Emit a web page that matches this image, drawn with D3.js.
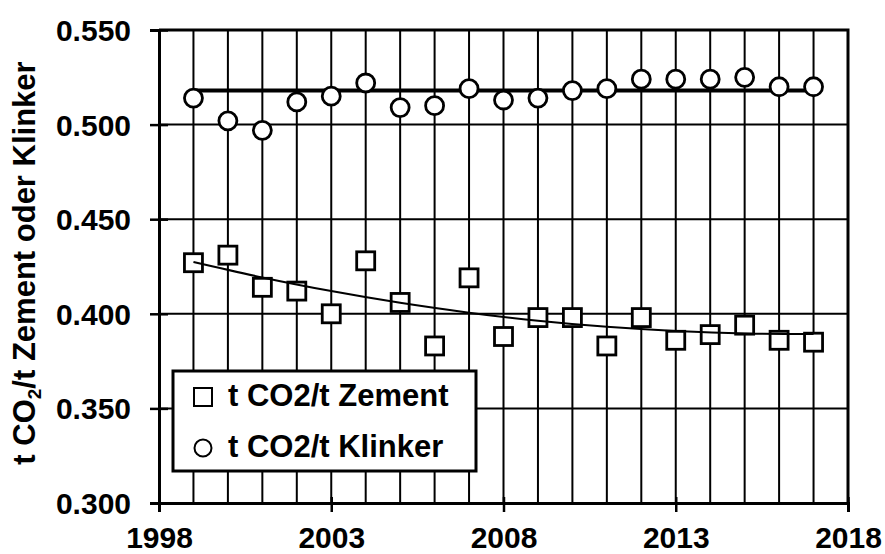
<!DOCTYPE html>
<html>
<head>
<meta charset="utf-8">
<script src="https://cdn.jsdelivr.net/npm/d3@7"></script>
<style>
  body { margin: 0; background: #fff; }
  text { font-family: "Liberation Sans", Arial, sans-serif; font-weight: bold; fill: #000; }
</style>
</head>
<body>
<script>
// values
const years = [1999, 2000, 2001, 2002, 2003, 2004, 2005, 2006, 2007, 2008,
  2009, 2010, 2011, 2012, 2013, 2014, 2015, 2016, 2017];
const zement = [0.427, 0.431, 0.414, 0.412, 0.400, 0.428, 0.406, 0.383, 0.419, 0.388,
  0.398, 0.398, 0.383, 0.398, 0.386, 0.389, 0.394, 0.386, 0.385];
const klinker = [0.514, 0.502, 0.497, 0.512, 0.515, 0.522, 0.509, 0.510, 0.519, 0.513,
  0.514, 0.518, 0.519, 0.524, 0.524, 0.524, 0.525, 0.520, 0.520];

// trend lines as drawn in the picture
const zementTrendYears = [1999, 2001, 2003, 2005, 2007, 2009, 2011, 2013, 2015, 2017];
const zementTrend = [0.4274, 0.4192, 0.4120, 0.4058, 0.4006, 0.3963, 0.3931, 0.3909, 0.3896, 0.3893];
const klinkerTrendYears = [1999, 2017];
const klinkerTrend = [0.518, 0.518];

const xTicks = [1998, 2003, 2008, 2013, 2018];
const yTicks = [0.300, 0.350, 0.400, 0.450, 0.500, 0.550];
const legendLabels = ["t CO2/t Zement", "t CO2/t Klinker"];

const width = 885, height = 554;
const margin = {left: 159, right: 37, top: 30, bottom: 51};

const svg = d3.select("body")
  .append("svg")
  .attr("width", width)
  .attr("height", height);

svg.append("rect").attr("width", width).attr("height", height).attr("fill", "#fff");

const xScale = d3.scaleLinear()
  .domain([1998, 2018])
  .range([margin.left, width - margin.right]);

const yScale = d3.scaleLinear()
  .domain([0.300, 0.550])
  .range([height - margin.bottom, margin.top]);

// grid
svg.append("g")
  .selectAll("line")
  .data(years)
  .enter()
  .append("line")
  .attr("x1", d => xScale(d)).attr("x2", d => xScale(d))
  .attr("y1", yScale(0.300)).attr("y2", yScale(0.550))
  .attr("stroke", "#000").attr("stroke-width", 2);

svg.append("g")
  .selectAll("line")
  .data(yTicks.slice(1, -1))
  .enter()
  .append("line")
  .attr("x1", xScale(1998)).attr("x2", xScale(2018))
  .attr("y1", d => yScale(d)).attr("y2", d => yScale(d))
  .attr("stroke", "#000").attr("stroke-width", 2);

// frame (top + right)
svg.append("path")
  .attr("d", "M" + xScale(1998) + "," + yScale(0.550) + "H" + xScale(2018) + "V" + yScale(0.300))
  .attr("fill", "none").attr("stroke", "#000").attr("stroke-width", 3);

// axes
const xAxis = d3.axisBottom(xScale).tickValues(xTicks).tickFormat(d3.format("d")).tickSizeOuter(0).tickSize(9);
const yAxis = d3.axisLeft(yScale).tickValues(yTicks).tickFormat(d3.format(".3f")).tickSizeOuter(0).tickSize(9);

const gx = svg.append("g")
  .attr("transform", "translate(0," + yScale(0.300) + ")")
  .call(xAxis);
gx.select(".domain").attr("stroke-width", 3);
gx.selectAll(".tick line").attr("y1", -6).attr("stroke-width", 2.5);
gx.selectAll(".tick text")
  .attr("y", 45).attr("dy", 0)
  .style("font-size", "30px");

const gy = svg.append("g")
  .attr("transform", "translate(" + xScale(1998) + ",0)")
  .call(yAxis);
gy.select(".domain").attr("stroke-width", 3);
gy.selectAll(".tick line").attr("x1", 9).attr("stroke-width", 2.5);
gy.selectAll(".tick text")
  .attr("x", -28).attr("dy", "0.35em")
  .style("font-size", "30px");

svg.selectAll(".domain, .tick line").attr("stroke", "#000");

// y axis title
const title = svg.append("text")
  .attr("transform", "translate(35," + 263 + ") rotate(-90)")
  .style("text-anchor", "middle")
  .style("font-size", "31px");
title.append("tspan").text("t CO");
title.append("tspan").text("2").style("font-size", "19px").attr("dy", 6);
title.append("tspan").text("/t Zement oder Klinker").attr("dy", -6);

const line = d3.line()
  .x(d => xScale(d[0]))
  .y(d => yScale(d[1]));

// Klinker trend (behind circles)
svg.append("path")
  .datum(d3.zip(klinkerTrendYears, klinkerTrend))
  .attr("d", line)
  .attr("fill", "none").attr("stroke", "#000").attr("stroke-width", 4);

svg.append("g")
  .selectAll("circle")
  .data(d3.zip(years, klinker))
  .enter()
  .append("circle")
  .attr("cx", d => xScale(d[0]))
  .attr("cy", d => yScale(d[1]))
  .attr("r", 9)
  .attr("fill", "#fff").attr("stroke", "#000").attr("stroke-width", 2.8);

svg.append("g")
  .selectAll("rect")
  .data(d3.zip(years, zement))
  .enter()
  .append("rect")
  .attr("x", d => xScale(d[0]) - 9)
  .attr("y", d => yScale(d[1]) - 9)
  .attr("width", 18).attr("height", 18)
  .attr("fill", "#fff").attr("stroke", "#000").attr("stroke-width", 2.8);

// Zement trend
svg.append("path")
  .datum(d3.zip(zementTrendYears, zementTrend))
  .attr("d", line.curve(d3.curveNatural))
  .attr("fill", "none").attr("stroke", "#000").attr("stroke-width", 2);

// legend
const legend = svg.append("g").attr("transform", "translate(173,371)");
legend.append("rect")
  .attr("width", 303).attr("height", 100)
  .attr("fill", "#fff").attr("stroke", "#000").attr("stroke-width", 3);

legend.append("rect")
  .attr("x", 21).attr("y", 17).attr("width", 18).attr("height", 18)
  .attr("fill", "#fff").attr("stroke", "#000").attr("stroke-width", 2);
legend.append("circle")
  .attr("cx", 30).attr("cy", 77).attr("r", 8.5)
  .attr("fill", "#fff").attr("stroke", "#000").attr("stroke-width", 2);

legend.selectAll("text.lab")
  .data(legendLabels)
  .enter()
  .append("text")
  .attr("class", "lab")
  .attr("x", 55)
  .attr("y", (d, i) => 35 + i * 51)
  .style("font-size", "31px")
  .text(d => d);
</script>
</body>
</html>
